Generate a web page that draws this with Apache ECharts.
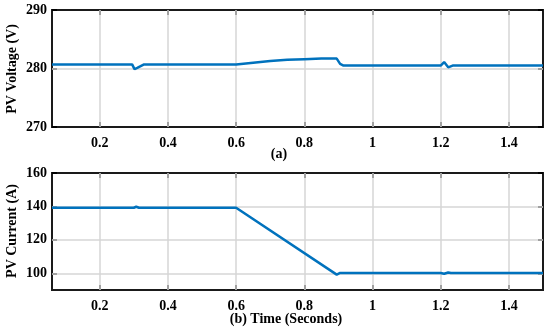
<!DOCTYPE html>
<html><head><meta charset="utf-8">
<script src="https://cdn.jsdelivr.net/npm/echarts@6/dist/echarts.min.js"></script>
<style>html,body{margin:0;padding:0;background:#fff}#c{width:550px;height:333px}</style>
</head><body><div id="c"></div>
<script>
// Data
const timeTicks = [0.2, 0.4, 0.6, 0.8, 1, 1.2, 1.4];
const voltageTicks = [270, 280, 290];
const currentTicks = [100, 120, 140, 160];
const voltageT = [0.06, 0.295, 0.302, 0.31, 0.33, 0.6, 0.65, 0.7, 0.75, 0.8, 0.85, 0.895, 0.905, 0.915, 1.2, 1.21, 1.222, 1.235, 1.5];
const voltageV = [280.7, 280.7, 279.9, 280.1, 280.7, 280.7, 281.0, 281.3, 281.5, 281.6, 281.7, 281.7, 280.8, 280.5, 280.5, 281.1, 280.2, 280.5, 280.5];
const currentT = [0.06, 0.3, 0.307, 0.315, 0.6, 0.895, 0.905, 1.2, 1.21, 1.222, 1.23, 1.5];
const currentV = [139.2, 139.2, 139.8, 139.2, 139.2, 99.2, 100.2, 100.2, 99.7, 100.5, 100.2, 100.2];

const FONT = '"Liberation Serif", "Times New Roman", serif';
const BLUE = '#0072BD';
const xs = {min: 0.06, max: 1.5};

function pairs(t, v) { return t.map((x, i) => [x, v[i]]); }

function xAxisPair(gi) {
  return [{
    type: 'value', gridIndex: gi, min: xs.min, max: xs.max, position: 'bottom',
    axisLine: {show: false},
    axisTick: {show: true, inside: true, length: 5, customValues: timeTicks, lineStyle: {color: '#000', width: 2}},
    axisLabel: {customValues: timeTicks, color: '#000', fontFamily: FONT, fontWeight: 'bold', fontSize: 14, margin: 9,
      formatter: v => String(+v.toFixed(2))},
    splitLine: {show: false}
  }, {
    type: 'value', gridIndex: gi, min: xs.min, max: xs.max, position: 'top',
    axisLine: {show: false},
    axisTick: {show: true, inside: true, length: 5, customValues: timeTicks, lineStyle: {color: '#000', width: 2}},
    axisLabel: {show: false}, splitLine: {show: false}
  }];
}
function yAxisPair(gi, min, max, ticks) {
  return [{
    type: 'value', gridIndex: gi, min: min, max: max, position: 'left',
    axisLine: {show: false},
    axisTick: {show: true, inside: true, length: 5, customValues: ticks, lineStyle: {color: '#000', width: 2}},
    axisLabel: {customValues: ticks, color: '#000', fontFamily: FONT, fontWeight: 'bold', fontSize: 14, margin: 5},
    splitLine: {show: false}
  }, {
    type: 'value', gridIndex: gi, min: min, max: max, position: 'right',
    axisLine: {show: false},
    axisTick: {show: true, inside: true, length: 5, customValues: ticks, lineStyle: {color: '#000', width: 2}},
    axisLabel: {show: false}, splitLine: {show: false}
  }];
}
function gridLines(xi, yi, xv, yv) {
  const d = [];
  xv.forEach(v => d.push({xAxis: v}));
  yv.forEach(v => d.push({yAxis: v}));
  return {
    type: 'line', xAxisIndex: xi, yAxisIndex: yi, data: [], z: 1, silent: true,
    markLine: {silent: true, z: 1, symbol: 'none', label: {show: false},
      lineStyle: {color: '#d6d6d6', width: 1.5, type: 'solid'}, data: d, animation: false}
  };
}

const chart = echarts.init(document.getElementById('c'), null, {renderer: 'canvas'});
chart.setOption({
  animation: false,
  backgroundColor: '#fff',
  grid: [
    {left: 52, right: 7, top: 10, height: 117, show: true, borderColor: '#1a1a1a', borderWidth: 2, backgroundColor: 'transparent'},
    {left: 52, right: 7, top: 173, height: 117, show: true, borderColor: '#1a1a1a', borderWidth: 2, backgroundColor: 'transparent'}
  ],
  xAxis: [...xAxisPair(0), ...xAxisPair(1)],
  yAxis: [...yAxisPair(0, 270, 290, voltageTicks), ...yAxisPair(1, 90, 160, currentTicks)],
  graphic: [
    {type: 'text', rotation: Math.PI / 2, style: {text: 'PV Voltage (V)', fill: '#000', font: 'bold 14px ' + FONT, textAlign: 'center', textVerticalAlign: 'middle'}, x: 12, y: 69},
    {type: 'text', rotation: Math.PI / 2, style: {text: 'PV Current (A)', fill: '#000', font: 'bold 14px ' + FONT, textAlign: 'center', textVerticalAlign: 'middle'}, x: 12, y: 231},
    {type: 'text', style: {text: '(a)', fill: '#000', font: 'bold 14px ' + FONT, textAlign: 'center', textVerticalAlign: 'middle'}, x: 279, y: 154},
    {type: 'text', style: {text: '(b) Time (Seconds)', fill: '#000', font: 'bold 14px ' + FONT, textAlign: 'center', textVerticalAlign: 'middle'}, x: 286, y: 319}
  ],
  series: [
    gridLines(0, 0, timeTicks, [280]),
    gridLines(2, 2, timeTicks, [100, 120, 140]),
    {type: 'line', xAxisIndex: 0, yAxisIndex: 0, data: pairs(voltageT, voltageV), showSymbol: false, z: 3,
      lineStyle: {color: BLUE, width: 2.5}},
    {type: 'line', xAxisIndex: 2, yAxisIndex: 2, data: pairs(currentT, currentV), showSymbol: false, z: 3,
      lineStyle: {color: BLUE, width: 2.5}}
  ]
});
</script></body></html>
